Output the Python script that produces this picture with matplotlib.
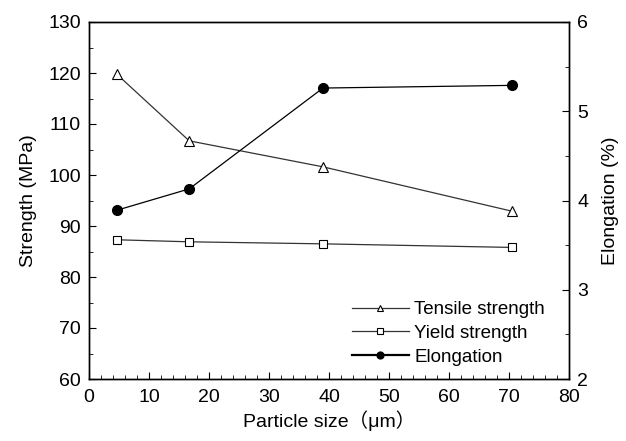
import matplotlib
matplotlib.use('Agg')
import matplotlib.pyplot as plt
from matplotlib.ticker import MultipleLocator

plt.rcParams['font.family'] = ['Liberation Sans', 'Noto Sans CJK SC', 'DejaVu Sans']
plt.rcParams['font.size'] = 13

# data
particle_size = [4.6, 16.7, 39.0, 70.5]
tensile = [119.8, 106.7, 101.6, 92.9]
yield_strength = [87.3, 86.9, 86.5, 85.8]
elongation = [3.89, 4.13, 5.26, 5.29]

fig = plt.figure(figsize=(6.26, 4.41), dpi=100)
ax = fig.add_axes([89 / 626, 1 - 379 / 441, 480 / 626, 357 / 441])
ax2 = ax.twinx()

l1, = ax.plot(particle_size, tensile, color='#333333', lw=0.9, marker='^',
              ms=7, mfc='white', mec='black', mew=0.8, label='Tensile strength')
l2, = ax.plot(particle_size, yield_strength, color='#333333', lw=0.9, marker='s',
              ms=6, mfc='white', mec='black', mew=0.8, label='Yield strength')
l3, = ax2.plot(particle_size, elongation, color='black', lw=0.9, marker='o',
               ms=7, mfc='black', mec='black', label='Elongation')

ax.set_xlim(0, 80)
ax.set_ylim(60, 130)
ax2.set_ylim(2, 6)

ax.xaxis.set_major_locator(MultipleLocator(10))
ax.xaxis.set_minor_locator(MultipleLocator(2))
ax.yaxis.set_major_locator(MultipleLocator(10))
ax.yaxis.set_minor_locator(MultipleLocator(5))
ax2.yaxis.set_major_locator(MultipleLocator(1))
ax2.yaxis.set_minor_locator(MultipleLocator(0.5))

ax.tick_params(which='both', direction='in', top=False, right=False)
ax.tick_params(which='major', length=5, labelsize=14)
ax.tick_params(which='minor', length=3)
ax.tick_params(axis='x', which='major', pad=7)
ax.tick_params(axis='y', which='major', pad=6)
ax2.tick_params(which='both', direction='in')
ax2.tick_params(which='major', length=5, labelsize=14, pad=6)
ax2.tick_params(which='minor', length=3)

for a in (ax, ax2):
    for s in a.spines.values():
        s.set_linewidth(1.0)

ax.set_xlabel('Particle size（μm）', fontsize=14, labelpad=3)
ax.set_ylabel('Strength (MPa)', fontsize=14, labelpad=8)
ax2.set_ylabel('Elongation (%)', fontsize=14, labelpad=10)

leg = ax.legend(handles=[l1, l2, l3], loc='lower right', bbox_to_anchor=(0.985, -0.01),
                frameon=False, fontsize=13.5, handlelength=3.0, handletextpad=0.3,
                labelspacing=0.35, markerscale=0.7)
leg.get_lines()[2].set_linewidth(1.6)

fig.savefig('out.png', dpi=100)
